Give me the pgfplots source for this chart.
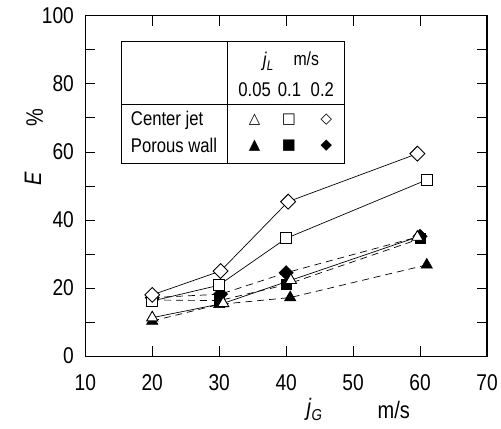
\documentclass[border=0pt]{standalone}
\usepackage{fontspec}
\setmainfont{Liberation Sans}[FakeStretch=0.84]
\newfontfamily\sym{DejaVu Sans}
\usepackage{pgfplots}
\pgfplotsset{compat=1.18}
\begin{document}
\begin{tikzpicture}
\begin{axis}[
  scale only axis, width=405pt, height=343pt,
  xmin=10, xmax=70, ymin=0, ymax=100,
  xtick={10,20,...,70}, ytick={0,20,...,100}, minor ytick={10,30,...,90},
  tick align=inside, major tick length=10pt, minor tick length=10pt,
  axis line style={line width=1.2pt},
  every tick/.style={black, line width=0.9pt},
  /pgf/number format/assume math mode=true,
  tick label style={font=\fontsize{23}{23}\selectfont},
  xticklabel style={yshift=-15pt},
  yticklabel style={xshift=-8pt},
  clip=false,
]
% Porous wall (filled, dashed)
\addplot[black, line width=0.7pt, dash pattern=on 7pt off 5pt, mark=triangle*, mark size=6.5pt, mark options={solid, fill=black}] coordinates {(20,10.3) (30,15.2) (40.6,17.2) (61,26.8)};
\addplot[black, line width=0.7pt, dash pattern=on 7pt off 5pt, mark=square*, mark size=5pt, mark options={solid, fill=black}] coordinates {(20,16.5) (30,16.3) (40,21) (60,34.5)};
\addplot[black, line width=0.7pt, dash pattern=on 7pt off 5pt, mark=square*, mark size=5pt, mark options={solid, fill=black, rotate=45}] coordinates {(20,17.2) (30.2,18.2) (40,24.5) (60,35.2)};
% Center jet (open, solid)
\addplot[black, line width=0.7pt, mark=triangle*, mark size=6.5pt, mark options={solid, fill=white, line width=0.9pt}] coordinates {(20,11.3) (30.6,15.5) (40.7,22.3) (59.6,35)};
\addplot[black, line width=0.7pt, mark=square*, mark size=5.5pt, mark options={solid, fill=white, line width=0.9pt}] coordinates {(20,16.2) (29.9,20.8) (40,34.6) (61,51.8)};
\addplot[black, line width=0.7pt, mark=square*, mark size=5.3pt, mark options={solid, fill=white, line width=0.9pt, rotate=45}] coordinates {(20,18) (30.2,25) (40.3,45.4) (59.6,59.5)};
% legend box
\draw[line width=0.9pt] (axis cs:15.33,56.6) rectangle (axis cs:48.67,92.4);
\draw[line width=0.9pt] (axis cs:31.2,56.6) -- (axis cs:31.2,92.4);
\draw[line width=0.9pt] (axis cs:15.33,74) -- (axis cs:48.67,74);
\node[font=\fontsize{20}{20}\selectfont] at (axis cs:37.3,86.6) {\textit{j}\raisebox{-0.35ex}{\fontsize{14}{14}\selectfont\textit{L}}};
\node[font=\fontsize{19}{19}\selectfont] at (axis cs:43.0,87.5) {m/s};
\node[font=\fontsize{20}{20}\selectfont] at (axis cs:35.3,78.4) {0.05};
\node[font=\fontsize{20}{20}\selectfont] at (axis cs:40.5,78.4) {0.1};
\node[font=\fontsize{20}{20}\selectfont] at (axis cs:45.4,78.4) {0.2};
\node[font=\fontsize{20}{20}\selectfont, anchor=west] at (axis cs:16.3,69.4) {Center jet};
\node[font=\fontsize{20}{20}\selectfont, anchor=west] at (axis cs:16.3,61.8) {Porous wall};
\node[font=\sym\fontsize{15}{15}\selectfont] at (axis cs:35.3,69.6) {△};
\node[font=\sym\fontsize{15}{15}\selectfont] at (axis cs:40.4,69.6) {□};
\node[font=\sym\fontsize{15}{15}\selectfont] at (axis cs:46.0,69.6) {◇};
\node[font=\sym\fontsize{15}{15}\selectfont] at (axis cs:35.3,62.0) {▲};
\node[font=\sym\fontsize{15}{15}\selectfont] at (axis cs:40.4,62.0) {■};
\node[font=\sym\fontsize{15}{15}\selectfont] at (axis cs:46.0,62.0) {◆};
% axis labels
\node[rotate=90, font=\fontsize{24}{24}\selectfont] at (rel axis cs:-0.13,0.52) {\textit{E}};
\node[rotate=90, font=\fontsize{24}{24}\selectfont] at (rel axis cs:-0.126,0.70) {\%};
\node[font=\fontsize{24}{24}\selectfont] at (rel axis cs:0.570,-0.157) {\textit{j}\raisebox{-0.35ex}{\fontsize{16}{16}\selectfont\textit{G}}};
\node[font=\fontsize{24}{24}\selectfont] at (rel axis cs:0.768,-0.157) {m/s};
% bounding box
\path (rel axis cs:-0.2123,-0.2128) rectangle (rel axis cs:1.0247,1.0466);
\end{axis}
\end{tikzpicture}
\end{document}
